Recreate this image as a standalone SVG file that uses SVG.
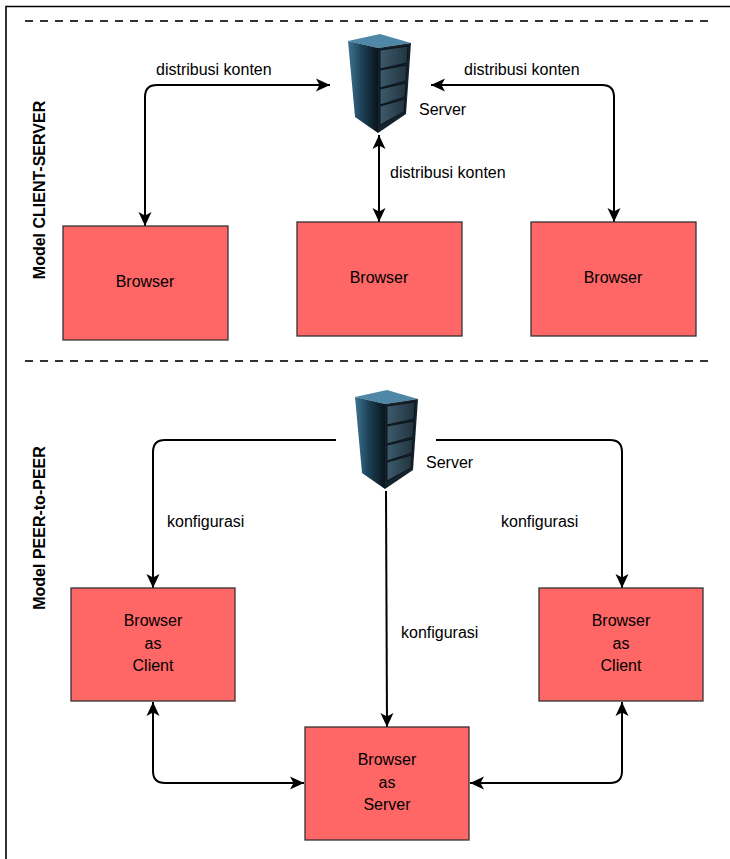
<svg xmlns="http://www.w3.org/2000/svg" width="730" height="859" viewBox="0 0 730 859">
<style>
.f{fill:none;stroke:#000;stroke-width:1.6}
.d{fill:none;stroke:#333;stroke-width:2;stroke-dasharray:8 7}
.b{fill:#ff6666;stroke:#333;stroke-width:1.3}
.c{fill:none;stroke:#000;stroke-width:2;stroke-linejoin:round}
text{font-family:"Liberation Sans",Arial,sans-serif;font-size:16px;fill:#000}
.m{text-anchor:middle}
.v{font-weight:bold;text-anchor:middle}
</style>
<defs>
<marker id="a" markerUnits="userSpaceOnUse" markerWidth="16" markerHeight="16" viewBox="0 0 16 16" refX="15" refY="8" orient="auto-start-reverse"><path d="M1 1.5L15 8L1 14.500L4.500 8Z" fill="#000"/></marker>
<linearGradient id="s1" x1="0" x2="1" y1="0" y2="0"><stop offset="0" stop-color="#3f7491"/><stop offset=".45" stop-color="#1d4258"/><stop offset="1" stop-color="#09141c"/></linearGradient>
<linearGradient id="s2" x1="0" x2="1" y1="0" y2="0"><stop offset="0" stop-color="#3d5a6b"/><stop offset="1" stop-color="#22343f"/></linearGradient>
<g id="srv">
<path d="M348 41L380 34L411 43L378 48Z" fill="#4f87a6"/>
<path d="M348 41L378 48L378 133L355 117Z" fill="url(#s1)"/>
<path d="M378 48L411 43L406 114L378 133Z" fill="#14232d"/>
<g fill="url(#s2)" stroke="#0c1419" stroke-width="1">
<path d="M380 50L408 46L407 63L380 69Z"/>
<path d="M380 70L407 65L406 81L380 88Z"/>
<path d="M380 89L406 83L405 97L380 105Z"/>
<path d="M380 106L405 99L404 112L380 125Z"/>
</g>
</g>
</defs>
<path class="f" d="M6 859V6.500H730"/>
<path class="d" d="M25 21H714"/>
<path class="d" d="M25 361H714"/>
<g id="connectors">
<path class="c" marker-start="url(#a)" marker-end="url(#a)" d="M330 85H157Q145 85 145 97V226"/>
<path class="c" marker-start="url(#a)" marker-end="url(#a)" d="M431 85H602Q614 85 614 97V222"/>
<path class="c" marker-start="url(#a)" marker-end="url(#a)" d="M379 135V222"/>
<path class="c" marker-end="url(#a)" d="M336 440H165Q153 440 153 452V588"/>
<path class="c" marker-end="url(#a)" d="M436 440H610Q622 440 622 452V588"/>
<path class="c" marker-end="url(#a)" d="M386 491L387 727"/>
<path class="c" marker-start="url(#a)" marker-end="url(#a)" d="M153 702V771Q153 783 165 783H304"/>
<path class="c" marker-start="url(#a)" marker-end="url(#a)" d="M622 702V771Q622 783 610 783H470"/>
</g>
<g id="server1"><use href="#srv"/><text x="419" y="115">Server</text></g>
<g id="server2"><use href="#srv" x="7" y="356"/><text x="426" y="468">Server</text></g>
<g id="browser1"><rect class="b" x="63" y="226" width="165" height="114"/><text class="m" x="145" y="287">Browser</text></g>
<g id="browser2"><rect class="b" x="297" y="222" width="165" height="114"/><text class="m" x="379" y="283">Browser</text></g>
<g id="browser3"><rect class="b" x="531" y="222" width="165" height="114"/><text class="m" x="613" y="283">Browser</text></g>
<g id="client1"><rect class="b" x="71" y="588" width="164" height="113"/><text class="m" x="153" y="626">Browser</text><text class="m" x="153" y="649">as</text><text class="m" x="153" y="671">Client</text></g>
<g id="client2"><rect class="b" x="539" y="588" width="164" height="113"/><text class="m" x="621" y="626">Browser</text><text class="m" x="621" y="649">as</text><text class="m" x="621" y="671">Client</text></g>
<g id="server-browser"><rect class="b" x="305" y="727" width="164" height="113"/><text class="m" x="387" y="765">Browser</text><text class="m" x="387" y="788">as</text><text class="m" x="387" y="810">Server</text></g>
<text x="156" y="75">distribusi konten</text>
<text x="464" y="75">distribusi konten</text>
<text x="390" y="178">distribusi konten</text>
<text x="167" y="527">konfigurasi</text>
<text x="501" y="527">konfigurasi</text>
<text x="401" y="638">konfigurasi</text>
<text class="v" transform="translate(45 190) rotate(-90)">Model CLIENT-SERVER</text>
<text class="v" transform="translate(45 528) rotate(-90)">Model PEER-to-PEER</text>
</svg>
